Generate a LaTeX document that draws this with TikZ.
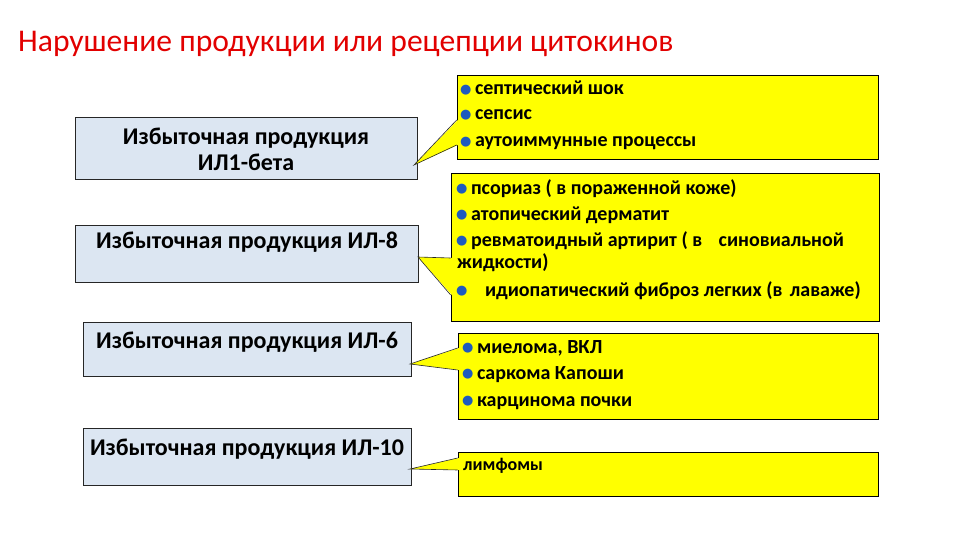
\documentclass[tikz,border=0pt]{standalone}
\usepackage{fontspec}
\setmainfont{Carlito}
\newfontfamily\bulfont{DejaVu Sans}
\usetikzlibrary{calc}
\definecolor{titlered}{RGB}{226,0,0}
\definecolor{boxblue}{RGB}{220,230,242}
\definecolor{calloutyellow}{RGB}{255,255,0}
\definecolor{bulletblue}{RGB}{30,90,190}
\newcommand{\bul}{\raisebox{1.6pt}{\bulfont\color{bulletblue}\fontsize{13}{13}\selectfont ●}\hspace{3.5pt}}
\begin{document}
\begin{tikzpicture}[x=1pt,y=-1pt,
  bluebox/.style={draw=black!85,line width=0.7pt,fill=boxblue,inner sep=0pt},
  yelbox/.style={draw=black,line width=0.7pt,fill=calloutyellow,inner sep=0pt},
  boxtext/.style={font=\fontsize{24}{26}\selectfont\bfseries,inner sep=0pt,align=center},
  yeltext/.style={font=\fontsize{20}{20}\selectfont\bfseries,inner sep=0pt,anchor=base west},
  ptr/.style={draw=black!85,line width=0.6pt,line join=miter}
]
\useasboundingbox (0,0) rectangle (960,540);

% title
\node[anchor=base west,inner sep=0pt,text=titlered,font=\fontsize{31.6}{32}\selectfont] (title) at (18,52) {Нарушение продукции или рецепции цитокинов};

% blue boxes
\node[bluebox,minimum width=342pt,minimum height=62pt] (b1) at (246,148) {};
\node[bluebox,minimum width=343pt,minimum height=57pt] (b2) at (246.5,253.5) {};
\node[bluebox,minimum width=328pt,minimum height=54pt] (b3) at (247,349) {};
\node[bluebox,minimum width=328pt,minimum height=57pt] (b4) at (247,456.5) {};

\node[boxtext,anchor=base] (b1t1) at (246,145) {Избыточная продукция};
\node[boxtext,anchor=base] (b1t2) at (246,171) {ИЛ1-бета};
\node[boxtext,anchor=base] (b2t) at (247,248) {Избыточная продукция ИЛ-8};
\node[boxtext,anchor=base] (b3t) at (247,348) {Избыточная продукция ИЛ-6};
\node[boxtext,anchor=base] (b4t) at (247,455) {Избыточная продукция ИЛ-10};

% yellow boxes
\node[yelbox,minimum width=421pt,minimum height=84pt] (y1) at (667.5,117) {};
\node[yelbox,minimum width=428pt,minimum height=148pt] (y2) at (665,247) {};
\node[yelbox,minimum width=420pt,minimum height=86pt] (y3) at (668,376) {};
\node[yelbox,minimum width=420pt,minimum height=44pt] (y4) at (668,474) {};

% callout pointers
\coordinate (t1) at (414,165);
\coordinate (p1a) at (y1.west |- 0,120);
\coordinate (p1b) at (y1.west |- 0,145);
\coordinate (t2) at (418,257);
\coordinate (p2a) at (y2.west |- 0,258);
\coordinate (p2b) at (y2.west |- 0,295);
\coordinate (t3) at (410,364);
\coordinate (p3a) at (y3.west |- 0,348);
\coordinate (p3b) at (y3.west |- 0,370);
\coordinate (t4) at (410,469);
\coordinate (p4a) at (y4.west |- 0,458);
\coordinate (p4b) at (y4.west |- 0,470);
\foreach \i in {1,2,3,4}{
  \fill[calloutyellow] (t\i) -- ($(p\i a)+(1.2,0)$) -- ($(p\i b)+(1.2,0)$) -- cycle;
  \draw[ptr] (p\i a) -- (t\i) -- (p\i b);
}

% yellow texts (baselines)
\node[yeltext] (y1a) at (460,95) {\bul септический шок};
\node[yeltext] (y1b) at (460,120) {\bul сепсис};
\node[yeltext] (y1c) at (460,147) {\bul аутоиммунные процессы};

\node[yeltext] (y2a) at (456,194) {\bul псориаз ( в пораженной коже)};
\node[yeltext] (y2b) at (456,220) {\bul атопический дерматит};
\node[yeltext] (y2c) at (456,246) {\bul ревматоидный артирит ( в \hspace{12pt}синовиальной};
\node[yeltext] (y2d) at (457,268) {жидкости)};
\node[yeltext] (y2e) at (456,296) {\bul\hspace{14pt}идиопатический фиброз легких (в \hspace{3pt}лаваже)};

\node[yeltext] (y3a) at (462,353) {\bul миелома, ВКЛ};
\node[yeltext] (y3b) at (462,379) {\bul саркома Капоши};
\node[yeltext] (y3c) at (462,406) {\bul карцинома почки};

\node[yeltext,font=\fontsize{18}{18}\selectfont\bfseries] (y4a) at (463,470) {лимфомы};
\end{tikzpicture}
\end{document}
